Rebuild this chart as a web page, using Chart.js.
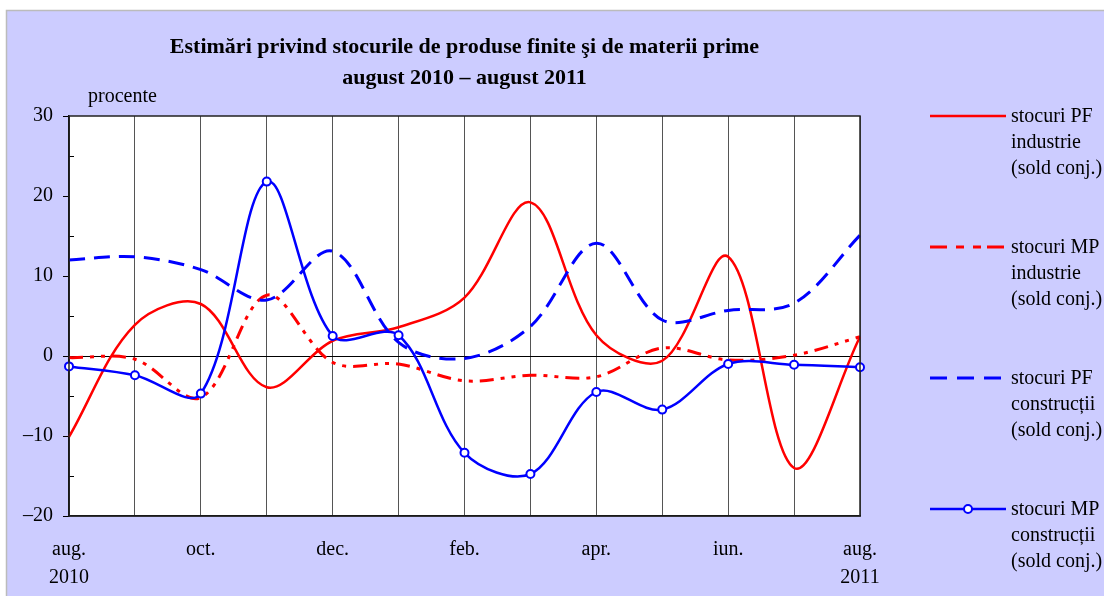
<!DOCTYPE html>
<html>
<head>
<meta charset="utf-8">
<script src="https://cdn.jsdelivr.net/npm/chart.js@4.4.1/dist/chart.umd.min.js"></script>
<style>
  html, body { margin: 0; padding: 0; background: #fff; }
  #wrap { position: relative; width: 1104px; height: 596px; }
</style>
</head>
<body>
<div id="wrap"><canvas id="chart" width="1104" height="596"></canvas></div>
<script>
// months aug 2010 .. aug 2011
const months = ["aug. 2010", "sep. 2010", "oct. 2010", "nov. 2010", "dec. 2010", "ian. 2011",
  "feb. 2011", "mar. 2011", "apr. 2011", "mai 2011", "iun. 2011", "iul. 2011", "aug. 2011"];
const xTickLabels = [["aug.", "2010"], "", "oct.", "", "dec.", "", "feb.", "", "apr.", "", "iun.", "", ["aug.", "2011"]];

const pfIndustrie = [-10.1, 3.9, 6.5, -3.9, 1.9, 3.6, 7.3, 19.2, 2.6, -0.6, 12.4, -14.0, 2.4];
const mpIndustrie = [-0.2, -0.4, -5.2, 7.6, -0.8, -1.0, -3.1, -2.4, -2.6, 1.0, -0.5, 0.1, 2.4];
const pfConstructii = [12.0, 12.4, 10.8, 7.0, 13.1, 1.7, -0.3, 3.7, 14.1, 4.5, 5.7, 6.6, 15.1];
const mpConstructii = [-1.3, -2.4, -4.7, 21.8, 2.5, 2.6, -12.1, -14.75, -4.5, -6.7, -1.0, -1.1, -1.4];

const yMin = -20, yMax = 30, yStep = 5;

const titleLines = ["Estimări privind stocurile de produse finite şi de materii prime", "august 2010 – august 2011"];
const unitLabel = "procente";
const legendLabels = [
  ["stocuri PF", "industrie", "(sold conj.)"],
  ["stocuri MP", "industrie", "(sold conj.)"],
  ["stocuri PF", "construcții", "(sold conj.)"],
  ["stocuri MP", "construcții", "(sold conj.)"],
];

const SERIF = "'Liberation Serif', 'Times New Roman', serif";
const RED = "#ff0000";
const BLUE = "#0000ff";

// frame, plot background, title, minor ticks and the side legend
const decorPlugin = {
  id: "decor",
  beforeDraw(chart) {
    const { ctx, chartArea: a } = chart;
    ctx.save();
    ctx.fillStyle = "#ffffff";
    ctx.fillRect(0, 0, chart.width, chart.height);
    ctx.fillStyle = "#ccccff";
    ctx.fillRect(7, 11, chart.width - 7, chart.height - 11);
    ctx.strokeStyle = "#bbbbbb";
    ctx.lineWidth = 1.5;
    ctx.beginPath();
    ctx.moveTo(6.5, chart.height);
    ctx.lineTo(6.5, 10.5);
    ctx.lineTo(chart.width, 10.5);
    ctx.stroke();
    ctx.fillStyle = "#ffffff";
    ctx.fillRect(a.left, a.top, a.right - a.left, a.bottom - a.top);
    ctx.restore();
  },
  afterDatasetsDraw(chart) {
    const { ctx, chartArea: a } = chart;
    const y = chart.scales.y;
    ctx.save();
    // minor ticks point inward
    ctx.strokeStyle = "#000";
    ctx.lineWidth = 1;
    for (let v = yMin; v <= yMax; v += yStep) {
      if (v % 10 === 0) continue;
      const py = Math.round(y.getPixelForValue(v)) + 0.5;
      ctx.beginPath();
      ctx.moveTo(a.left, py);
      ctx.lineTo(a.left + 5, py);
      ctx.stroke();
    }
    // plot frame
    ctx.lineWidth = 1.5;
    ctx.strokeStyle = "#222";
    ctx.strokeRect(a.left, a.top, a.right - a.left, a.bottom - a.top);

    // title
    const cx = (a.left + a.right) / 2;
    ctx.fillStyle = "#000";
    ctx.textAlign = "center";
    ctx.textBaseline = "middle";
    ctx.font = "bold 22px " + SERIF;
    ctx.fillText(titleLines[0], cx, 47);
    ctx.fillText(titleLines[1], cx, 78);
    ctx.textAlign = "left";
    ctx.font = "20px " + SERIF;
    ctx.fillText(unitLabel, 88, 97);

    // legend at right
    chart.data.datasets.forEach((ds, i) => {
      const ly = 116 + i * 131;
      ctx.strokeStyle = ds.borderColor;
      ctx.lineWidth = ds.borderWidth;
      ctx.setLineDash(ds.legendDash || []);
      ctx.beginPath();
      ctx.moveTo(930, ly);
      ctx.lineTo(1006, ly);
      ctx.stroke();
      ctx.setLineDash([]);
      if (ds.pointRadius > 0) {
        ctx.fillStyle = "#fff";
        ctx.lineWidth = ds.pointBorderWidth;
        ctx.beginPath();
        ctx.arc(968, ly, ds.pointRadius, 0, Math.PI * 2);
        ctx.fill();
        ctx.stroke();
      }
      ctx.fillStyle = "#000";
      ctx.font = "20px " + SERIF;
      legendLabels[i].forEach((t, j) => ctx.fillText(t, 1011, ly + 1 + j * 26));
    });
    ctx.restore();
  },
};

new Chart(document.getElementById("chart"), {
  type: "line",
  data: {
    labels: months,
    datasets: [
      {
        label: legendLabels[0].join(" "),
        data: pfIndustrie,
        borderColor: RED,
        borderWidth: 2.5,
        pointRadius: 0,
        order: 4,
      },
      {
        label: legendLabels[1].join(" "),
        data: mpIndustrie,
        borderColor: RED,
        borderWidth: 3,
        borderDash: [14, 7, 4, 7, 4, 7],
        legendDash: [17, 9, 8, 9, 8, 6],
        pointRadius: 0,
        order: 3,
      },
      {
        label: legendLabels[2].join(" "),
        data: pfConstructii,
        borderColor: BLUE,
        borderWidth: 3,
        borderDash: [16, 9],
        legendDash: [17, 10],
        pointRadius: 0,
        order: 2,
      },
      {
        label: legendLabels[3].join(" "),
        data: mpConstructii,
        borderColor: BLUE,
        borderWidth: 2.5,
        pointRadius: 4,
        pointBorderWidth: 2,
        pointBackgroundColor: "#fff",
        pointBorderColor: BLUE,
        order: 1,
      },
    ],
  },
  options: {
    responsive: false,
    animation: false,
    devicePixelRatio: 1,
    elements: { line: { tension: 0.34, fill: false } },
    layout: { padding: { left: 0, top: 116, right: 244, bottom: 0 } },
    plugins: {
      legend: { display: false },
      title: { display: false },
      tooltip: { enabled: false },
    },
    scales: {
      x: {
        type: "category",
        offset: false,
        afterFit: (s) => { s.height = 80; },
        grid: { color: "#555", lineWidth: 1, drawTicks: false },
        border: { color: "#000", width: 1.5 },
        ticks: {
          autoSkip: false,
          maxRotation: 0,
          padding: 20,
          color: "#000",
          font: { family: SERIF, size: 20, lineHeight: 1.4 },
          callback: (v, i) => xTickLabels[i],
        },
      },
      y: {
        min: yMin,
        max: yMax,
        afterFit: (s) => { s.width = 69; },
        grid: {
          color: (c) => (c.tick && c.tick.value === 0 ? "#000" : "rgba(0,0,0,0)"),
          tickColor: (c) => (c.tick && c.tick.value % 10 === 0 ? "#000" : "rgba(0,0,0,0)"),
          tickLength: 6,
          lineWidth: 1,
        },
        border: { color: "#000", width: 1.5 },
        ticks: {
          stepSize: yStep,
          padding: 10,
          color: "#000",
          font: { family: SERIF, size: 20 },
          callback: (v) => (v % 10 === 0 ? (v < 0 ? "\u2013" + Math.abs(v) : String(v)) : ""),
        },
      },
    },
  },
  plugins: [decorPlugin],
});
</script>
</body>
</html>
